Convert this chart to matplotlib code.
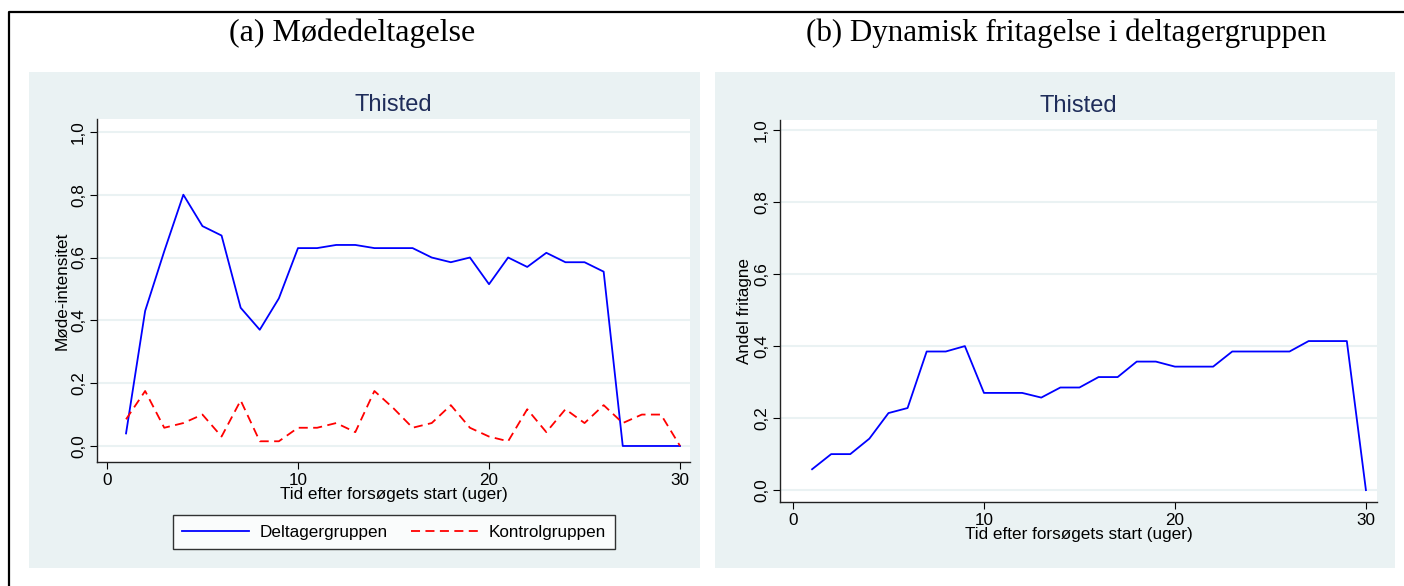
import matplotlib
matplotlib.use("Agg")
import matplotlib.pyplot as plt
from matplotlib.patches import Rectangle
from matplotlib.lines import Line2D
from matplotlib.ticker import FuncFormatter

plt.rcParams['font.family'] = ['Liberation Sans', 'DejaVu Sans']

uger = list(range(1, 31))

# (a) Mødedeltagelse
deltager = [0.04, 0.43, 0.62, 0.80, 0.70, 0.67, 0.44, 0.37, 0.47, 0.63,
            0.63, 0.64, 0.64, 0.63, 0.63, 0.63, 0.60, 0.585, 0.60, 0.515,
            0.60, 0.57, 0.615, 0.585, 0.585, 0.555, 0.0, 0.0, 0.0, 0.0]
kontrol = [0.085, 0.175, 0.058, 0.073, 0.10, 0.03, 0.145, 0.015, 0.015, 0.058,
           0.058, 0.073, 0.044, 0.175, 0.12, 0.058, 0.073, 0.13, 0.058, 0.03,
           0.015, 0.117, 0.044, 0.117, 0.073, 0.13, 0.073, 0.10, 0.10, 0.0]

# (b) Dynamisk fritagelse
fritagne = [0.058, 0.10, 0.10, 0.143, 0.214, 0.228, 0.385, 0.385, 0.40, 0.27,
            0.27, 0.27, 0.257, 0.285, 0.285, 0.314, 0.314, 0.357, 0.357, 0.343,
            0.343, 0.343, 0.385, 0.385, 0.385, 0.385, 0.414, 0.414, 0.414, 0.0]

x_ticks = [0, 10, 20, 30]
y_ticks = [0.0, 0.2, 0.4, 0.6, 0.8, 1.0]

W, H = 1404, 586
bg = '#EAF2F3'
navy = '#1F2D5A'
fs = 12.3

fig = plt.figure(figsize=(W / 100, H / 100), dpi=100)


def fx(px):
    return px / W


def fy(py):
    return 1 - py / H


# ydre ramme (kun venstre og top)
fig.add_artist(Line2D([fx(9), fx(9), fx(1410)], [fy(590), fy(12), fy(12)],
                      color='black', lw=1.6, transform=fig.transFigure))

# grå paneler
for x0, x1 in [(29, 700), (715, 1395)]:
    fig.add_artist(Rectangle((fx(x0), fy(568)), fx(x1) - fx(x0), fy(72) - fy(568),
                             facecolor=bg, edgecolor='none', transform=fig.transFigure, zorder=0))

fig.text(fx(352), fy(33), '(a) Mødedeltagelse', ha='center', va='center',
         family='Liberation Serif', fontsize=23)
fig.text(fx(1066), fy(33), '(b) Dynamisk fritagelse i deltagergruppen', ha='center', va='center',
         family='Liberation Serif', fontsize=22.3)

komma = FuncFormatter(lambda v, p: f'{v:.1f}'.replace('.', ','))


def style_ax(ax, xlim, ylim, ylabel):
    ax.set_xlim(*xlim)
    ax.set_ylim(*ylim)
    ax.set_facecolor('white')
    ax.spines['top'].set_visible(False)
    ax.spines['right'].set_visible(False)
    for s in ['left', 'bottom']:
        ax.spines[s].set_color('#222222')
        ax.spines[s].set_linewidth(1.0)
    ax.set_xticks(x_ticks)
    ax.set_yticks(y_ticks)
    ax.yaxis.set_major_formatter(komma)
    ax.tick_params(axis='both', direction='out', length=5, width=0.8, labelsize=fs, pad=3)
    for lab in ax.get_yticklabels():
        lab.set_rotation(90)
        lab.set_va('center')
    ax.grid(axis='y', color=bg, lw=1.5)
    ax.set_axisbelow(True)
    ax.set_xlabel('Tid efter forsøgets start (uger)', fontsize=fs, labelpad=-1)
    ax.set_ylabel(ylabel, fontsize=fs, labelpad=1)
    ax.set_title('Thisted', color=navy, fontsize=17, pad=6)


# panel (a)
ax1 = fig.add_axes([fx(97), fy(462), fx(690) - fx(97), fy(119) - fy(462)])
ax1.plot(uger, deltager, color='#0000FF', lw=1.3, label='Deltagergruppen')
ax1.plot(uger, kontrol, color='#FF0000', lw=1.3, ls=(0, (5, 3)), label='Kontrolgruppen')
style_ax(ax1, (-0.52, 30.52), (-0.051, 1.041), 'Møde-intensitet')
leg = ax1.legend(loc='center', bbox_to_anchor=(fx(394), fy(532)), bbox_transform=fig.transFigure,
                 ncol=2, fontsize=fs, frameon=True, fancybox=False, edgecolor='black',
                 handlelength=3.9, handletextpad=0.6, columnspacing=1.4, borderpad=0.55)
leg.get_frame().set_linewidth(1.0)

# panel (b)
ax2 = fig.add_axes([fx(780), fy(502), fx(1377) - fx(780), fy(120) - fy(502)])
ax2.plot(uger, fritagne, color='#0000FF', lw=1.3)
style_ax(ax2, (-0.68, 30.58), (-0.033, 1.028), 'Andel fritagne')

fig.savefig('out.png', dpi=100)
